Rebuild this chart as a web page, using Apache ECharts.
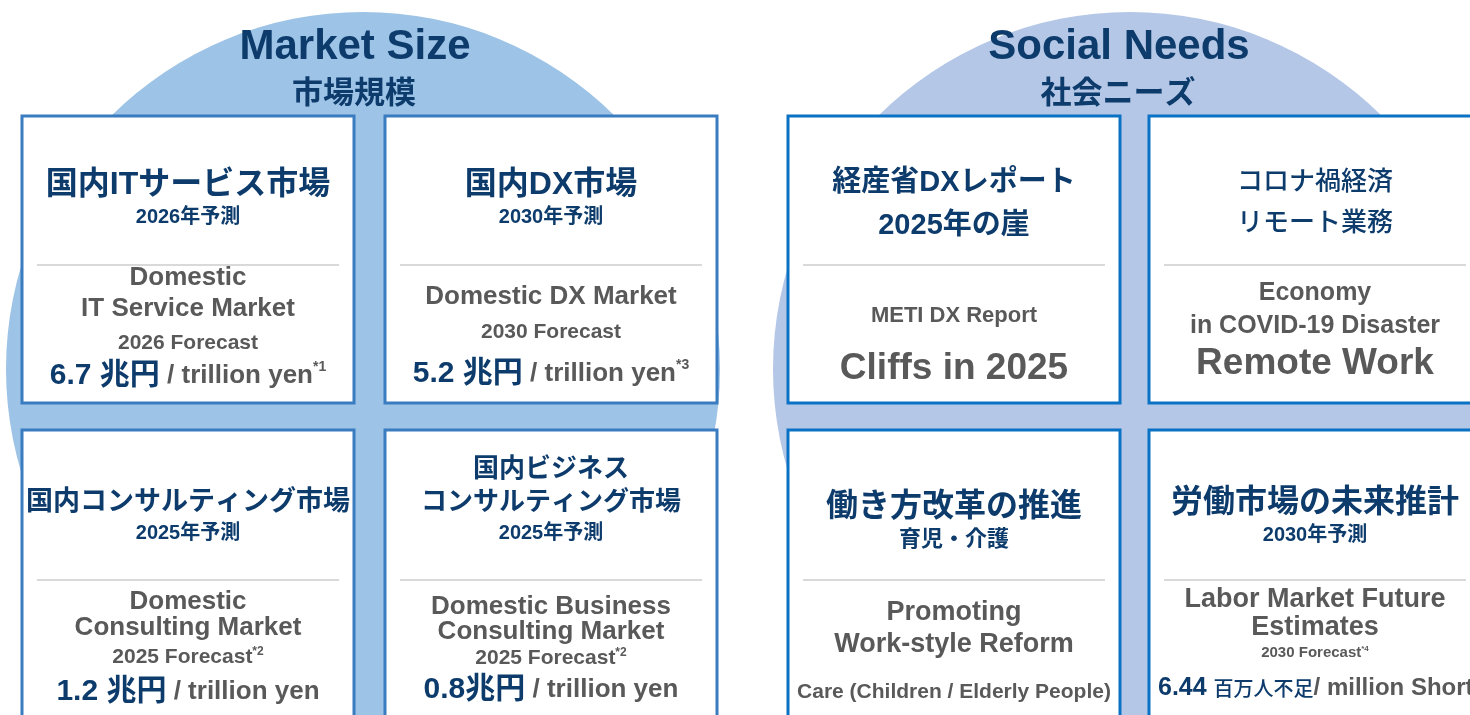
<!DOCTYPE html>
<html>
<head>
<meta charset="utf-8">
<script src="https://cdn.jsdelivr.net/npm/echarts@6/dist/echarts.min.js"></script>
<style>
  html, body { margin: 0; padding: 0; background: #fff; }
  #chart { width: 1470px; height: 715px; }
</style>
</head>
<body>
<div id="chart"></div>
<script>
// section headings
const sectionEn = ['Market Size', 'Social Needs']
const sectionJa = ['市場規模', '社会ニーズ']

// card texts, order: market TL, TR, BL, BR, social TL, TR, BL, BR
const cardJa = [
  '国内ITサービス市場',
  '国内DX市場',
  '国内コンサルティング市場',
  '国内ビジネス\nコンサルティング市場',
  '経産省DXレポート\n2025年の崖',
  'コロナ禍経済\nリモート業務',
  '働き方改革の推進',
  '労働市場の未来推計',
]
const cardJaSub = ['2026年予測', '2030年予測', '2025年予測', '2025年予測', '', '', '育児・介護', '2030年予測']
const cardEn = [
  'Domestic\nIT Service Market',
  'Domestic DX Market',
  'Domestic\nConsulting Market',
  'Domestic Business\nConsulting Market',
  'METI DX Report',
  'Economy\nin COVID-19 Disaster',
  'Promoting\nWork-style Reform',
  'Labor Market Future\nEstimates',
]
const cardForecast = ['2026 Forecast', '2030 Forecast', '2025 Forecast', '2025 Forecast', '', '', '', '2030 Forecast']
const forecastNotes = ['', '', '*2', '*2', '', '', '', '*4']
const cardHighlight = ['', '', '', '', 'Cliffs in 2025', 'Remote Work', 'Care (Children / Elderly People)', '']
const values = [6.7, 5.2, 1.2, 0.8, null, null, null, 6.44]
const unitJa = ['兆円', '兆円', '兆円', '兆円', '', '', '', '百万人不足']
const unitEn = ['trillion yen', 'trillion yen', 'trillion yen', 'trillion yen', '', '', '', 'million Shortage']
const valueNotes = ['*1', '*3', '', '', '', '', '', '']

// 配色
const NAVY = '#0c3b6c'
const GRAY = '#595959'
const circleColor = ['#9dc3e6', '#b4c7e7']
const borderColor = ['#3a7cc0', '#0a72c4']
const FONT = "'Liberation Sans', Arial, 'Noto Sans CJK JP', sans-serif"
const JFONT = "'Noto Sans CJK JP', sans-serif"

// layout of each card
const cards = [
  { x: 22, y: 116, w: 332, h: 287, side: 0, jaY: [185], jaSize: 32, subY: 217, sepY: 265, enY: [278, 309], enSize: 26, fcY: 343, fcSize: 21, valY: 376, gap: ' ' },
  { x: 385, y: 116, w: 332, h: 287, side: 0, jaY: [185], jaSize: 32, subY: 217, sepY: 265, enY: [297], enSize: 26, fcY: 332, fcSize: 21, valY: 374, gap: ' ' },
  { x: 22, y: 430, w: 332, h: 300, side: 0, jaY: [503], jaSize: 27, subY: 533, sepY: 580, enY: [602, 628], enSize: 26, fcY: 657, fcSize: 21, valY: 692, gap: ' ' },
  { x: 385, y: 430, w: 332, h: 300, side: 0, jaY: [470, 503], jaSize: 26, subY: 533, sepY: 580, enY: [607, 632], enSize: 26, fcY: 658, fcSize: 21, valY: 690, gap: '' },
  { x: 788, y: 116, w: 332, h: 287, side: 1, jaY: [183, 226], jaSize: 29, sepY: 265, enY: [316], enSize: 22, hlY: 369, hlSize: 37 },
  { x: 1149, y: 116, w: 332, h: 287, side: 1, jaY: [183, 224], jaSize: 26, jaWeight: 500, sepY: 265, enY: [293, 326], enSize: 25, hlY: 364, hlSize: 37 },
  { x: 788, y: 430, w: 332, h: 300, side: 1, jaY: [507], jaSize: 32, subY: 540, subSize: 22, sepY: 580, enY: [613, 645], enSize: 27, hlY: 692, hlSize: 21 },
  { x: 1149, y: 430, w: 332, h: 300, side: 1, jaY: [503], jaSize: 32, subY: 535, sepY: 580, enY: [600, 628], enSize: 27, fcY: 653, fcSize: 15, valY: 688, valX: 1158, gap: ' ' },
]
const circles = [{ cx: 363, cy: 369 }, { cx: 1130, cy: 369 }]
const headX = [355, 1119]

function txt(x, y, text, size, color, weight, family, extra) {
  return {
    type: 'text',
    z: 10,
    style: Object.assign({
      x: x,
      y: y,
      text: text,
      fill: color,
      fontSize: size,
      fontWeight: weight || 'bold',
      fontFamily: family || FONT,
      align: 'center',
      verticalAlign: 'middle',
    }, extra || {}),
  }
}

const elements = []

// 背景の円
circles.forEach((c, i) => {
  elements.push({ type: 'circle', z: 1, shape: { cx: c.cx, cy: c.cy, r: 357 }, style: { fill: circleColor[i] } })
  elements.push(txt(headX[i], 47, sectionEn[i], 42, NAVY))
  elements.push(txt(headX[i] - 1, 91, sectionJa[i], 31, NAVY, 'bold', JFONT))
})

cards.forEach((c, i) => {
  const cx = c.x + c.w / 2
  elements.push({
    type: 'rect', z: 5,
    shape: { x: c.x, y: c.y, width: c.w, height: c.h },
    style: { fill: '#fff', stroke: borderColor[c.side], lineWidth: 3 },
  })
  // separator
  elements.push({
    type: 'line', z: 6,
    shape: { x1: c.x + 15, y1: c.sepY, x2: c.x + c.w - 15, y2: c.sepY },
    style: { stroke: '#d9d9d9', lineWidth: 2 },
  })
  cardJa[i].split('\n').forEach((line, k) => {
    elements.push(txt(cx, c.jaY[k], line, c.jaSize, NAVY, c.jaWeight || 'bold'))
  })
  if (cardJaSub[i]) {
    elements.push(txt(cx, c.subY, cardJaSub[i], c.subSize || 20, NAVY))
  }
  cardEn[i].split('\n').forEach((line, k) => {
    elements.push(txt(cx, c.enY[k], line, c.enSize, GRAY))
  })
  if (cardForecast[i]) {
    const note = forecastNotes[i]
    elements.push(txt(cx, c.fcY, '{f|' + cardForecast[i] + '}' + (note ? '{n|' + note + '}' : ''), c.fcSize, GRAY, 'bold', FONT, {
      rich: {
        f: { fontSize: c.fcSize, fontWeight: 'bold', fontFamily: FONT, fill: GRAY, lineHeight: c.fcSize + 2 },
        n: { fontSize: Math.round(c.fcSize * 0.55), fontWeight: 'bold', fontFamily: FONT, fill: GRAY, verticalAlign: 'top', lineHeight: c.fcSize * 0.7 },
      },
    }))
  }
  if (cardHighlight[i]) {
    elements.push(txt(cx, c.hlY, cardHighlight[i], c.hlSize, GRAY))
  }
  if (values[i] != null) {
    const isPeople = i === 7
    let s = '{v|' + values[i] + c.gap + '}'
    s += isPeople ? '{j|' + unitJa[i] + '}' : '{v|' + unitJa[i] + '}'
    s += '{u|' + (isPeople ? '/ ' : ' / ') + unitEn[i] + '}'
    if (valueNotes[i]) s += '{n|' + valueNotes[i] + '}'
    elements.push(txt(c.valX || cx, c.valY, s, 26, GRAY, 'bold', FONT, {
      align: c.valX ? 'left' : 'center',
      rich: {
        v: { fontSize: isPeople ? 25 : 30, fontWeight: 'bold', fontFamily: FONT, fill: NAVY, lineHeight: 32 },
        j: { fontSize: 20, fontWeight: 500, fontFamily: JFONT, fill: NAVY, lineHeight: 32 },
        u: { fontSize: isPeople ? 24 : 26, fontWeight: 'bold', fontFamily: FONT, fill: GRAY, lineHeight: 32 },
        n: { fontSize: 14, fontWeight: 'bold', fontFamily: FONT, fill: GRAY, verticalAlign: 'top', lineHeight: 20 },
      },
    }))
  }
})

const chart = echarts.init(document.getElementById('chart'))
chart.setOption({
  animation: false,
  graphic: { elements: elements },
})
</script>
</body>
</html>
